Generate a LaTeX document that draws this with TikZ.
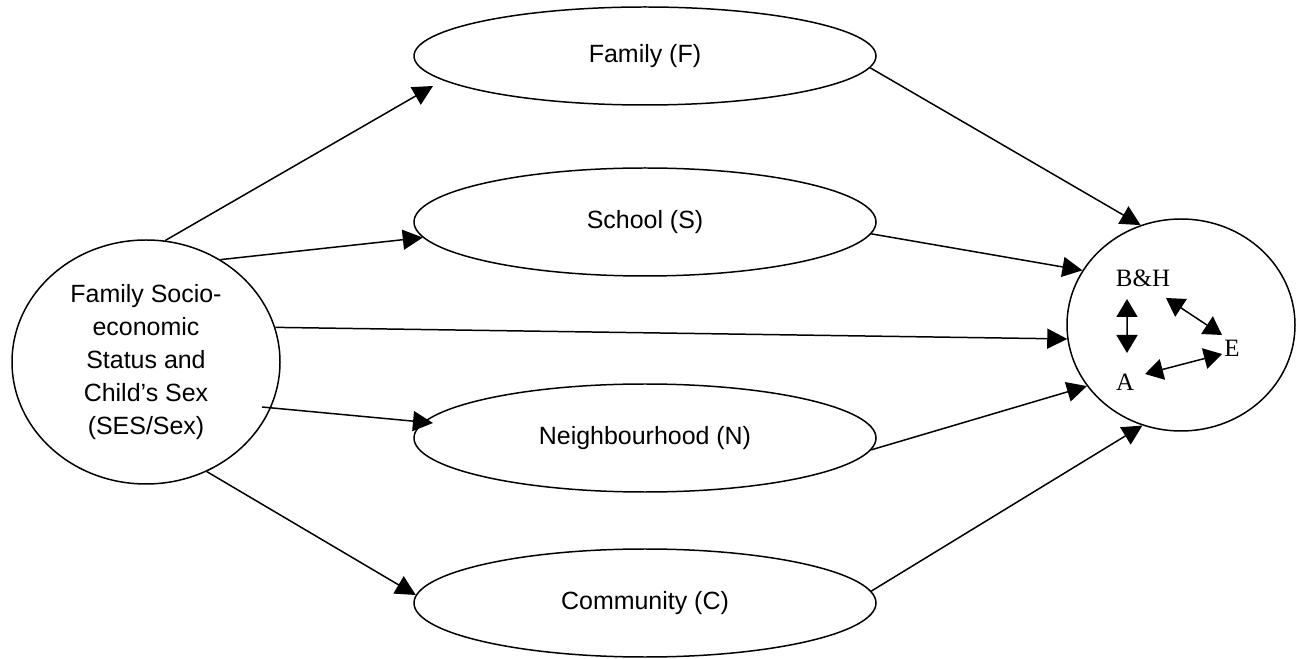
\documentclass[tikz,border=0pt]{standalone}
\usepackage{fontspec}
\setmainfont{Liberation Sans}
\newfontfamily\timesfont{Liberation Serif}
\usetikzlibrary{shapes.geometric,arrows.meta}

\begin{document}
\begin{tikzpicture}[
    oval/.style={ellipse, draw, line width=0.85pt, inner sep=0pt,
      font=\fontsize{14.2}{18.8}\selectfont},
    mid/.style={oval, minimum width=9.24cm, minimum height=2.16cm},
    link/.style={line width=0.85pt, -{Triangle[length=0.4cm,width=0.4cm]}},
    both/.style={line width=0.85pt,
      {Triangle[length=0.36cm,width=0.42cm]}-{Triangle[length=0.36cm,width=0.42cm]}},
    lbl/.style={inner sep=0pt, font=\timesfont\fontsize{14.2}{17}\selectfont}]
\useasboundingbox (0,0) rectangle (25.92,13.16);
\node[oval, minimum width=5.36cm, minimum height=4.88cm, align=center] (ses) at (2.92,5.92)
  {Family Socio-\\economic\\Status and\\Child’s Sex\\(SES/Sex)};
\node[mid, minimum height=1.96cm] (fam) at (12.9,12.04) {Family (F)};
\node[mid] (sch) at (12.9,8.72) {School (S)};
\node[mid] (nbh) at (12.9,4.40) {Neighbourhood (N)};
\node[mid] (com) at (12.9,1.10) {Community (C)};
\node[oval, minimum width=4.56cm, minimum height=4.24cm] (out) at (23.62,6.66) {};
\node[lbl] (bh) at (22.86,7.60) {B\&H};
\node[lbl] (a) at (22.50,5.52) {A};
\node[lbl] (e) at (24.64,6.20) {E};

\draw[link] (ses.81) -- ([shift={(-4.24,-0.60)}]fam.center);
\draw[link] (ses.54) -- (sch.184);
\draw[link] (ses.15) -- (out.187);
\draw[link] ([shift={(2.32,-0.90)}]ses.center) -- ([shift={(-4.24,0.30)}]nbh.center);
\draw[link] (ses.-61) -- (com.178);
\draw[link] (fam.-3) -- (out.112);
\draw[link] (sch.-3) -- (out.151);
\draw[link] (nbh.-3) -- (out.213);
\draw[link] (com.3) -- (out.249);

\draw[both] ([shift={(-0.32,-0.42)}]bh.center) -- ([shift={(0.04,0.58)}]a.center);
\draw[both] ([shift={(0.46,-0.40)}]bh.center) -- ([shift={(-0.20,0.26)}]e.center);
\draw[both] ([shift={(0.40,0.16)}]a.center) -- ([shift={(-0.20,-0.12)}]e.center);
\end{tikzpicture}
\end{document}
